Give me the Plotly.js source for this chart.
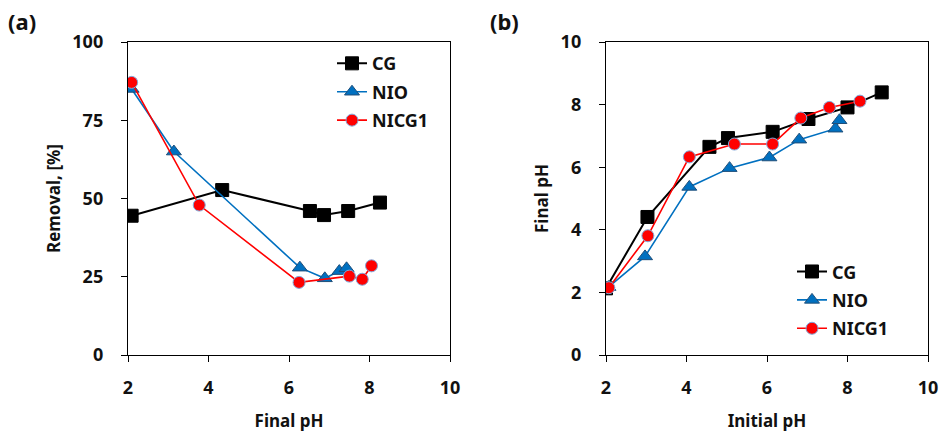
<!DOCTYPE html>
<html>
<head>
<meta charset="utf-8">
<script src="https://cdn.plot.ly/plotly-3.0.1.min.js"></script>
<style>html,body{margin:0;padding:0;background:#fff;}#chart{width:942px;height:434px;}</style>
</head>
<body>
<div id="chart"></div>
<script>
// Panel (a): Removal vs Final pH
const a_CG_x = [2.09, 4.34, 6.52, 6.87, 7.47, 8.26];
const a_CG_y = [44.5, 52.7, 46.0, 44.7, 46.0, 48.7];
const a_NIO_x = [2.09, 3.14, 6.27, 6.89, 7.25, 7.43];
const a_NIO_y = [85.0, 65.0, 27.9, 24.5, 26.8, 27.7];
const a_NICG1_x = [2.09, 3.77, 6.25, 7.50, 7.82, 8.05];
const a_NICG1_y = [87.1, 47.9, 23.2, 25.2, 24.2, 28.5];
// Panel (b): Final pH vs Initial pH
const b_CG_x = [2.00, 3.03, 4.57, 5.03, 6.14, 7.03, 8.00, 8.85];
const b_CG_y = [2.13, 4.41, 6.65, 6.93, 7.13, 7.54, 7.91, 8.39];
const b_NIO_x = [2.06, 2.97, 4.07, 5.07, 6.06, 6.80, 7.70, 7.80];
const b_NIO_y = [2.17, 3.15, 5.37, 5.97, 6.31, 6.88, 7.23, 7.50];
const b_NICG1_x = [2.07, 3.04, 4.07, 5.19, 6.14, 6.84, 7.55, 8.31];
const b_NICG1_y = [2.15, 3.81, 6.33, 6.74, 6.74, 7.57, 7.91, 8.11];

const seriesNames = ["CG", "NIO", "NICG1"];
const xTicks = [2, 4, 6, 8, 10];
const yTicksA = [0, 25, 50, 75, 100];
const yTicksB = [0, 2, 4, 6, 8, 10];
const panelLabels = ["(a)", "(b)"];
const xTitles = ["Final pH", "Initial pH"];
const yTitles = ["Removal, [%]", "Final pH"];

const FONT = "Noto Sans, DejaVu Sans, sans-serif";
const styles = [
  {line: {color: "#000000", width: 2}, marker: {symbol: "square", size: 13, color: "#000000", line: {color: "#000000", width: 1}}},
  {line: {color: "#0070C0", width: 1.6}, marker: {symbol: "triangle-up", size: 13, color: "#0070C0", line: {color: "#1F4E79", width: 1}}},
  {line: {color: "#FF0000", width: 1.6}, marker: {symbol: "circle", size: 12, color: "#FF0000", line: {color: "#7FA7D9", width: 1}}}
];
const aData = [[a_CG_x, a_CG_y], [a_NIO_x, a_NIO_y], [a_NICG1_x, a_NICG1_y]];
const bData = [[b_CG_x, b_CG_y], [b_NIO_x, b_NIO_y], [b_NICG1_x, b_NICG1_y]];

const traces = [];
aData.forEach((d, i) => traces.push({
  x: d[0], y: d[1], name: seriesNames[i], type: "scatter", mode: "lines+markers", legendgroup: "a" + i,
  xaxis: "x", yaxis: "y", legend: "legend", line: styles[i].line, marker: styles[i].marker
}));
bData.forEach((d, i) => traces.push({
  x: d[0], y: d[1], name: seriesNames[i], type: "scatter", mode: "lines+markers", legendgroup: "b" + i,
  xaxis: "x2", yaxis: "y2", legend: "legend2", line: styles[i].line, marker: styles[i].marker
}));

const tickFont = {family: FONT, size: 18, color: "#111", weight: "bold"};
const titleFont = {family: FONT, size: 17, color: "#111", weight: "bold"};
function xAxis(domain, anchor, title) {
  return {domain: domain, anchor: anchor, range: [2, 10], tickvals: xTicks, ticktext: xTicks.map(String),
    showline: true, mirror: true, linecolor: "#000", linewidth: 1.2, ticks: "outside", ticklen: 6, tickcolor: "#000",
    showgrid: false, zeroline: false, tickfont: tickFont, ticklabelstandoff: 10,
    title: {text: title, font: titleFont, standoff: 17}};
}
function yAxis(anchor, range, vals, title) {
  return {domain: [0, 1], anchor: anchor, range: range, tickvals: vals, ticktext: vals.map(String),
    showline: true, mirror: true, linecolor: "#000", linewidth: 1.2, ticks: "outside", ticklen: 6, tickcolor: "#000",
    showgrid: false, zeroline: false, tickfont: tickFont, ticklabelstandoff: 14,
    title: {text: title, font: titleFont, standoff: 7}};
}
const legFont = {family: FONT, size: 18, color: "#111", weight: "bold"};
const layout = {
  width: 942, height: 434,
  margin: {l: 128, r: 14, t: 42, b: 79},
  paper_bgcolor: "#fff", plot_bgcolor: "#fff",
  font: {family: FONT},
  xaxis: xAxis([0, 0.4025], "y", xTitles[0]),
  yaxis: yAxis("x", [0, 100], yTicksA, yTitles[0]),
  xaxis2: xAxis([0.5975, 1], "y2", xTitles[1]),
  yaxis2: yAxis("x2", [0, 10], yTicksB, yTitles[1]),
  legend: {x: 0.255, y: 0.99, xanchor: "left", yanchor: "top", bgcolor: "rgba(0,0,0,0)", font: legFont, itemwidth: 30, tracegroupgap: 2},
  legend2: {x: 0.83, y: 0.325, xanchor: "left", yanchor: "top", bgcolor: "rgba(0,0,0,0)", font: legFont, itemwidth: 30, tracegroupgap: 2},
  showlegend: true,
  annotations: [
    {text: panelLabels[0], xref: "paper", yref: "paper", x: -0.152, y: 1.067, xanchor: "left", yanchor: "middle", showarrow: false, font: {family: FONT, size: 22, color: "#111", weight: "bold"}},
    {text: panelLabels[1], xref: "paper", yref: "paper", x: 0.45, y: 1.067, xanchor: "left", yanchor: "middle", showarrow: false, font: {family: FONT, size: 22, color: "#111", weight: "bold"}}
  ]
};
Plotly.newPlot("chart", traces, layout, {displayModeBar: false, staticPlot: true});
</script>
</body>
</html>
